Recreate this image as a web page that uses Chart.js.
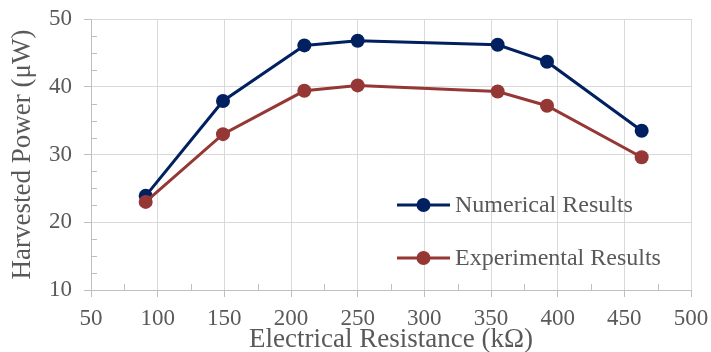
<!DOCTYPE html>
<html>
<head>
<meta charset="utf-8">
<script src="https://cdn.jsdelivr.net/npm/chart.js@4.4.1/dist/chart.umd.min.js"></script>
<style>
  html, body { margin: 0; padding: 0; background: #fff; }
  #wrap { width: 711px; height: 352px; }
</style>
</head>
<body>
<div id="wrap"><canvas id="chart"></canvas></div>
<script>
// resistance in kΩ, power in µW
const resistance = [91, 149, 210, 250, 355, 392, 463];
const numerical = [23.9, 37.9, 46.1, 46.8, 46.2, 43.7, 33.5];
const experimental = [23.0, 33.0, 39.4, 40.2, 39.3, 37.2, 29.6];
const seriesNames = ["Numerical Results", "Experimental Results"];

const FONT = "'Liberation Serif', 'Times New Roman', serif";
const TEXT = "#595959";

const toPoints = (ys) => resistance.map((x, i) => ({ x, y: ys[i] }));

// small inward ticks between the labelled ones
const minorTicks = {
  id: "minorTicks",
  beforeDatasetsDraw(chart) {
    const { ctx, scales: { x, y } } = chart;
    ctx.save();
    ctx.strokeStyle = "#bfbfbf";
    ctx.lineWidth = 1;
    ctx.beginPath();
    for (let v = 75; v < 500; v += 50) {
      const px = Math.round(x.getPixelForValue(v)) + 0.5;
      ctx.moveTo(px, y.bottom);
      ctx.lineTo(px, y.bottom - 6);
    }
    for (let v = 10; v < 50; v += 2.5) {
      if (v % 10 === 0) continue;
      const py = Math.round(y.getPixelForValue(v)) + 0.5;
      ctx.moveTo(x.left, py);
      ctx.lineTo(x.left + 6, py);
    }
    ctx.stroke();
    ctx.restore();
  }
};

// legend box sitting inside the plot
const innerLegend = {
  id: "innerLegend",
  afterDraw(chart) {
    const { ctx } = chart;
    const rows = [205, 258];
    ctx.save();
    chart.data.datasets.forEach((ds, i) => {
      const yy = rows[i];
      ctx.strokeStyle = ds.borderColor;
      ctx.lineWidth = 3;
      ctx.beginPath();
      ctx.moveTo(397, yy);
      ctx.lineTo(450, yy);
      ctx.stroke();
      ctx.fillStyle = ds.backgroundColor;
      ctx.beginPath();
      ctx.arc(423.5, yy, 7, 0, Math.PI * 2);
      ctx.fill();
      ctx.fillStyle = TEXT;
      ctx.font = "24px " + FONT;
      ctx.textBaseline = "middle";
      ctx.fillText(ds.label, 455, yy + 1);
    });
    ctx.restore();
  }
};

new Chart(document.getElementById("chart"), {
  type: "line",
  data: {
    datasets: [
      {
        label: seriesNames[0],
        data: toPoints(numerical),
        borderColor: "#002060",
        backgroundColor: "#002060",
        borderWidth: 3,
        pointRadius: 7,
        pointHoverRadius: 7,
        pointBorderWidth: 0,
        order: 2
      },
      {
        label: seriesNames[1],
        data: toPoints(experimental),
        borderColor: "#953735",
        backgroundColor: "#953735",
        borderWidth: 3,
        pointRadius: 7,
        pointHoverRadius: 7,
        pointBorderWidth: 0,
        order: 1
      }
    ]
  },
  options: {
    responsive: true,
    maintainAspectRatio: false,
    animation: false,
    layout: { padding: { top: 19, right: 20, left: 0, bottom: 0 } },
    plugins: {
      legend: { display: false },
      tooltip: { enabled: false }
    },
    scales: {
      x: {
        type: "linear",
        min: 50,
        max: 500,
        afterFit: (s) => {
          s.height = 62;
          s.paddingLeft = 0;
          s.paddingRight = 0;
        },
        ticks: {
          stepSize: 50,
          padding: 8,
          color: TEXT,
          font: { family: FONT, size: 23 },
          maxRotation: 0
        },
        grid: { color: "#d9d9d9", tickColor: "#bfbfbf", tickLength: 7 },
        border: { color: "#bfbfbf" },
        title: {
          display: true,
          text: "Electrical Resistance (kΩ)",
          color: TEXT,
          font: { family: FONT, size: 27, lineHeight: 0.9 },
          padding: { top: 0, bottom: 0 }
        }
      },
      y: {
        min: 10,
        max: 50,
        afterFit: (s) => {
          s.width = 91;
          s.paddingTop = 0;
          s.paddingBottom = 0;
        },
        ticks: {
          stepSize: 10,
          padding: 12,
          color: TEXT,
          font: { family: FONT, size: 23 }
        },
        grid: { color: "#d9d9d9", tickColor: "#bfbfbf", tickLength: 7 },
        border: { color: "#bfbfbf" },
        title: {
          display: true,
          text: "Harvested Power (μW)",
          color: TEXT,
          font: { family: FONT, size: 27, lineHeight: 1.0 },
          padding: { top: 9, bottom: 0 }
        }
      }
    }
  },
  plugins: [minorTicks, innerLegend]
});
</script>
</body>
</html>
